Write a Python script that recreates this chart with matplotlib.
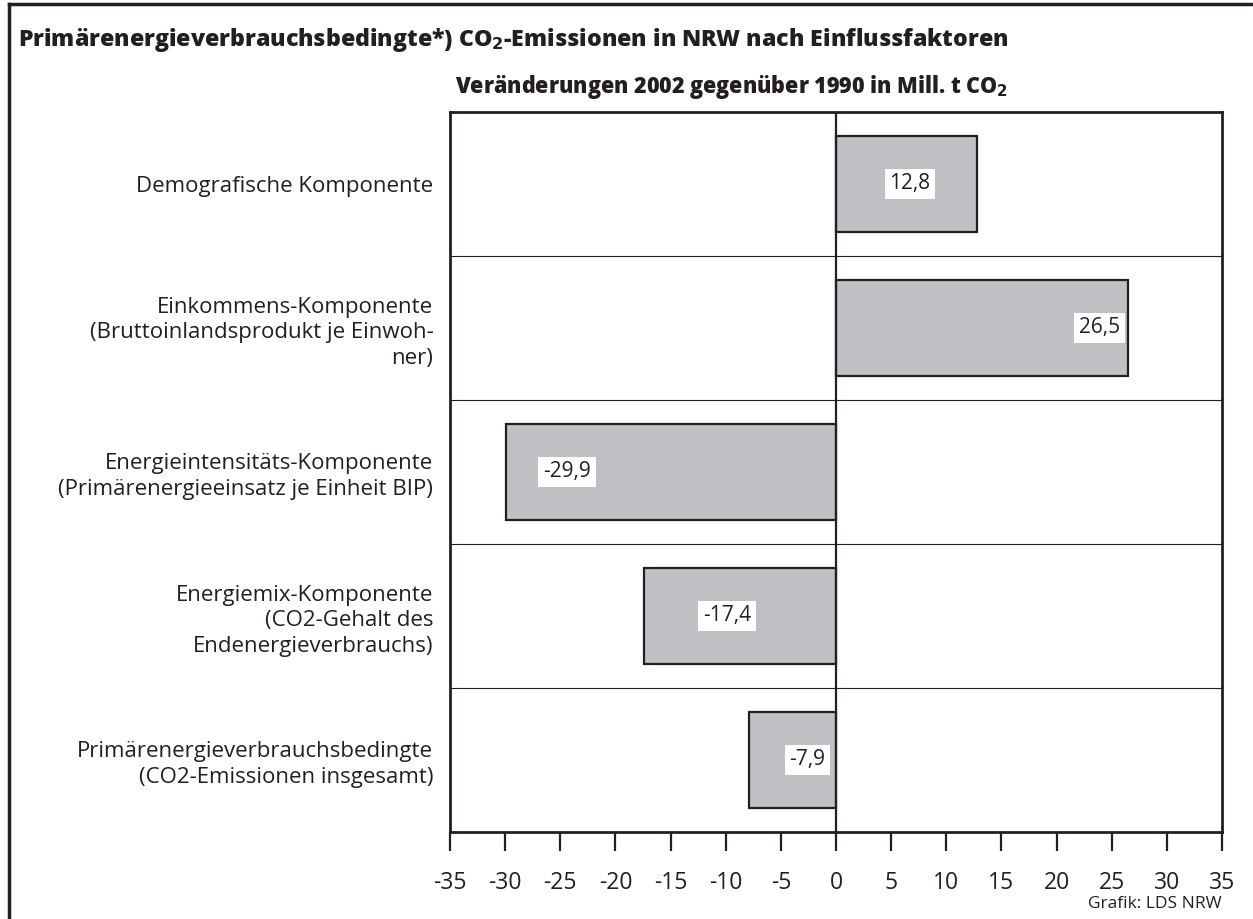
import matplotlib
matplotlib.use("Agg")
import matplotlib.pyplot as plt
from matplotlib.lines import Line2D

plt.rcParams['font.family'] = ['Open Sans', 'DejaVu Sans']

# data
categories = [
    "Demografische Komponente",
    "Einkommens-Komponente\n(Bruttoinlandsprodukt je Einwoh-\nner)",
    "Energieintensitäts-Komponente\n(Primärenergieeinsatz je Einheit BIP)",
    "Energiemix-Komponente\n(CO2-Gehalt des\nEndenergieverbrauchs)",
    "Primärenergieverbrauchsbedingte\n(CO2-Emissionen insgesamt)",
]
values = [12.8, 26.5, -29.9, -17.4, -7.9]
value_labels = ["12,8", "26,5", "-29,9", "-17,4", "-7,9"]
label_x = [6.7, 23.9, -24.4, -9.9, -2.6]  # where the value boxes sit
x_ticks = list(range(-35, 40, 5))

W, H = 1253, 919
fig = plt.figure(figsize=(W / 100, H / 100), dpi=100)
ax = fig.add_axes([450 / W, 1 - 832 / H, (1222 - 450) / W, (832 - 112) / H])

n = len(categories)
ypos = list(range(n))
ax.barh(ypos, values, height=0.667, color="#bfc0c4", edgecolor="#231f20",
        linewidth=1.6, zorder=2)
for y, lx, txt in zip(ypos, label_x, value_labels):
    ax.text(lx, y, txt, ha="center", va="center", fontsize=15, color="#231f20",
            bbox=dict(facecolor="white", edgecolor="none", pad=3.5), zorder=4)

for b in range(1, n):
    ax.axhline(b - 0.5, color="#231f20", linewidth=0.8, zorder=1)
ax.axvline(0, color="#231f20", linewidth=1.6, zorder=3)

ax.set_xlim(-35, 35)
ax.set_ylim(n - 0.5, -0.5)
ax.set_xticks(x_ticks)
ax.set_xticklabels([str(t) for t in x_ticks], fontsize=16.5, color="#231f20")
ax.tick_params(axis="x", direction="out", length=14, width=1.6, pad=14,
               color="#231f20")
ax.set_yticks(ypos)
ax.set_yticklabels(categories, fontsize=16, color="#231f20", linespacing=1.3)
ax.tick_params(axis="y", length=0, pad=12)
for s in ax.spines.values():
    s.set_linewidth(2)
    s.set_color("#231f20")

# outer frame (left and top only)
fig.add_artist(Line2D([9 / W, 9 / W], [0, 1 - 4 / H], transform=fig.transFigure,
                      color="#231f20", linewidth=2.5))
fig.add_artist(Line2D([9 / W, 1], [1 - 4 / H, 1 - 4 / H], transform=fig.transFigure,
                      color="#231f20", linewidth=2.5))

fig.text(18 / W, 1 - 40 / H,
         "Primärenergieverbrauchsbedingte*) CO$_\\mathbf{2}$-Emissionen in NRW nach Einflussfaktoren",
         fontsize=16.7, fontweight="heavy", ha="left", va="center", color="#231f20")
fig.text(455 / W, 1 - 87 / H, "Veränderungen 2002 gegenüber 1990 in Mill. t CO$_\\mathbf{2}$",
         fontsize=15.5, fontweight="heavy", ha="left", va="center", color="#231f20")
fig.text(1222 / W, 1 - 904 / H, "Grafik: LDS NRW", fontsize=12.5, ha="right",
         va="center", color="#231f20")

fig.savefig("out.png", dpi=100)
